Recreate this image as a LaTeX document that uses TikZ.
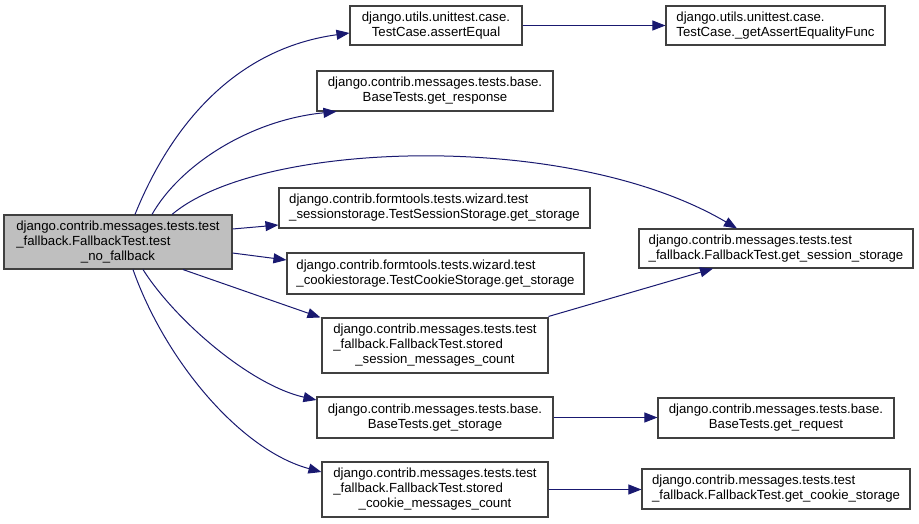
\documentclass[tikz,border=0pt]{standalone}
\usepackage{fontspec}
\setmainfont{Liberation Sans}
\usetikzlibrary{arrows.meta}
\definecolor{edgecol}{RGB}{25,25,112}
\definecolor{boxline}{RGB}{64,64,64}
\definecolor{mainfill}{RGB}{191,191,191}
\begin{document}
\begin{tikzpicture}[x=1pt,y=-1pt,
  box/.style={draw=boxline, line width=1.1pt, fill=white, inner sep=0pt,
    font=\fontsize{13.2}{15}\selectfont},
  lbox/.style={box, align=left},
  cbox/.style={box, align=center},
  edge/.style={draw=edgecol, line width=1pt, -{Triangle[length=13pt,width=10pt]}}]
\useasboundingbox (0,0) rectangle (919,523);
% nodes
\node[box, fill=mainfill, minimum width=228pt, minimum height=54pt] (main) at (118,242)
  {\begin{tabular}{@{}l@{}}django.contrib.messages.tests.test\\\_fallback.FallbackTest.test\\\multicolumn{1}{@{}c@{}}{\_no\_fallback}\end{tabular}};
\node[cbox, minimum width=172pt, minimum height=39pt] (ae) at (436,25.5)
  {django.utils.unittest.case.\\TestCase.assertEqual};
\node[lbox, minimum width=219pt, minimum height=39pt] (gaef) at (775.5,25.5)
  {django.utils.unittest.case.\\TestCase.\_getAssertEqualityFunc};
\node[cbox, minimum width=236pt, minimum height=40pt] (gr) at (435,91)
  {django.contrib.messages.tests.base.\\BaseTests.get\_response};
\node[lbox, minimum width=311pt, minimum height=40pt] (sss) at (434.5,208)
  {django.contrib.formtools.tests.wizard.test\\\_sessionstorage.TestSessionStorage.get\_storage};
\node[lbox, minimum width=297pt, minimum height=41pt] (css) at (435.5,273.5)
  {django.contrib.formtools.tests.wizard.test\\\_cookiestorage.TestCookieStorage.get\_storage};
\node[box, minimum width=226pt, minimum height=55pt] (ssmc) at (435,345.5)
  {\begin{tabular}{@{}l@{}}django.contrib.messages.tests.test\\\_fallback.FallbackTest.stored\\\multicolumn{1}{@{}c@{}}{\_session\_messages\_count}\end{tabular}};
\node[cbox, minimum width=236pt, minimum height=41pt] (bgs) at (435,417.5)
  {django.contrib.messages.tests.base.\\BaseTests.get\_storage};
\node[box, minimum width=226pt, minimum height=55pt] (scmc) at (435,489.5)
  {\begin{tabular}{@{}l@{}}django.contrib.messages.tests.test\\\_fallback.FallbackTest.stored\\\multicolumn{1}{@{}c@{}}{\_cookie\_messages\_count}\end{tabular}};
\node[lbox, minimum width=274pt, minimum height=39pt] (gsess) at (776,248.5)
  {django.contrib.messages.tests.test\\\_fallback.FallbackTest.get\_session\_storage};
\node[cbox, minimum width=236pt, minimum height=40pt] (greq) at (776,418)
  {django.contrib.messages.tests.base.\\BaseTests.get\_request};
\node[lbox, minimum width=268pt, minimum height=40pt] (gcs) at (776,489)
  {django.contrib.messages.tests.test\\\_fallback.FallbackTest.get\_cookie\_storage};
% edges
\draw[edge] ([xshift=17pt]main.north) .. controls (165,140) and (225,50) .. ([yshift=-7.5pt]ae.west);
\draw[edge] ([xshift=34pt]main.north) .. controls (180,165) and (250,120) .. ([xshift=20pt]gr.south west);
\draw[edge] ([xshift=54pt]main.north) .. controls (260,140) and (570,130) .. ([xshift=-39pt]gsess.north);
\draw[edge] ([yshift=13pt]main.east) -- ([yshift=-17pt]sss.west);
\draw[edge] ([yshift=-11pt]main.east) -- ([yshift=13.5pt]css.west);
\draw[edge] ([xshift=65pt]main.south) -- ([xshift=-1pt]ssmc.north west);
\draw[edge] ([xshift=25pt]main.south) .. controls (175,320) and (250,385) .. ([yshift=17.5pt]bgs.west);
\draw[edge] ([xshift=15pt]main.south) .. controls (165,360) and (240,450) .. ([yshift=17.5pt]scmc.west);
\draw[edge] (ae.east) -- (gaef.west);
\draw[edge] ([yshift=1pt]ssmc.north east) -- ([xshift=-63pt]gsess.south);
\draw[edge] (bgs.east) -- (bgs.east -| greq.west);
\draw[edge] (scmc.east) -- (scmc.east -| gcs.west);
\end{tikzpicture}
\end{document}
